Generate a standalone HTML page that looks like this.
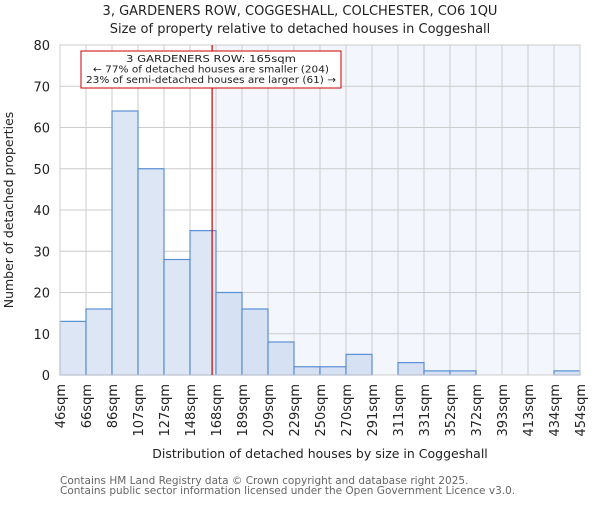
<!DOCTYPE html>
<html><head><meta charset="utf-8"><style>
body{margin:0;background:#fff;}
svg text{font-family:"DejaVu Sans","Liberation Sans",sans-serif;}
</style></head><body>
<svg id="chart" width="600" height="500" xmlns="http://www.w3.org/2000/svg">
<text x="300" y="15" text-anchor="middle" font-size="13" fill="#222">3, GARDENERS ROW, COGGESHALL, COLCHESTER, CO6 1QU</text>
<text x="300" y="33" text-anchor="middle" font-size="13" fill="#222">Size of property relative to detached houses in Coggeshall</text>
<g id="plot"></g>
<text transform="translate(13,210) rotate(-90)" text-anchor="middle" font-size="12.5" fill="#222">Number of detached properties</text>
<text x="320" y="458" text-anchor="middle" font-size="12.5" fill="#222">Distribution of detached houses by size in Coggeshall</text>
<text x="60" y="484" font-size="10.5" fill="#666">Contains HM Land Registry data © Crown copyright and database right 2025.</text>
<text x="60" y="494" font-size="10.5" fill="#666">Contains public sector information licensed under the Open Government Licence v3.0.</text>
</svg>
<script>
const binLabels=["46sqm","66sqm","86sqm","107sqm","127sqm","148sqm","168sqm","189sqm","209sqm","229sqm","250sqm","270sqm","291sqm","311sqm","331sqm","352sqm","372sqm","393sqm","413sqm","434sqm","454sqm"];
const binEdges=[46,66,86,107,127,148,168,189,209,229,250,270,291,311,331,352,372,393,413,434,454];
const counts=[13,16,64,50,28,35,20,16,8,2,2,5,0,3,1,1,0,0,0,1];
const yTicks=[0,10,20,30,40,50,60,70,80];
const propertySize=165;
const annotationLines=["3 GARDENERS ROW: 165sqm","← 77% of detached houses are smaller (204)","23% of semi-detached houses are larger (61) →"];

const L=60,R=580,T=45,B=375,NS="http://www.w3.org/2000/svg";
const bw=(R-L)/counts.length;
const xi=i=>L+i*bw;
const xv=v=>{let i=0;while(i<binEdges.length-2&&v>binEdges[i+1])i++;return xi(i)+(v-binEdges[i])/(binEdges[i+1]-binEdges[i])*bw;};
const y=v=>B-(v-0)/(80-0)*(B-T);
const g=document.getElementById('plot');
function mk(t,a,p){const e=document.createElementNS(NS,t);for(const k in a)e.setAttribute(k,a[k]);(p||g).appendChild(e);return e;}
const px=xv(propertySize);
let e=mk('rect',{x:px,y:T,width:R-px,height:B-T,fill:'#f3f6fd'});


yTicks.forEach(t=>{
 let l=mk('line',{x1:L,x2:R,y1:y(t),y2:y(t),stroke:'#ccc','stroke-width':1});
 
 
 let tx=mk('text',{x:L-10,y:y(t)+5,'text-anchor':'end','font-size':13,fill:'#222'});
 tx.textContent=t;
 
 
});
binLabels.forEach((lab,i)=>{
 let l=mk('line',{x1:xi(i),x2:xi(i),y1:T,y2:B,stroke:'#ccc','stroke-width':1});
 
 
 let tx=mk('text',{transform:`translate(${xi(i)+5},384) rotate(-90)`,'text-anchor':'end','font-size':13,fill:'#222'});
 tx.textContent=lab;
 
 
});
counts.forEach((c,i)=>{
 let r=mk('rect',{x:xi(i),y:y(c),width:bw,height:B-y(c),fill:i>=6?'#d6e1f3':'#dce6f5',stroke:'#5a8fd6','stroke-width':1.2});
 
 
});
let ax=mk('line',{x1:L,x2:R,y1:B,y2:B,stroke:'#bbb'});


let fr=mk('rect',{x:L,y:T,width:R-L,height:B-T,fill:'none',stroke:'#ccc'});


let ml=mk('line',{x1:px,x2:px,y1:T,y2:B,stroke:'#cc0000','stroke-width':1.2});


let box=mk('rect',{x:81,y:51,width:260,height:37,fill:'#fff',stroke:'#cc0000','stroke-width':1});


annotationLines.forEach((s,k)=>{
 let tx=mk('text',{x:211,y:62+k*10.5,'text-anchor':'middle','font-size':10,fill:'#222',textLength:k===0?170:250,lengthAdjust:'spacingAndGlyphs'});
 if(k===1){tx.setAttribute('textLength',236);}
 tx.textContent=s;
 
 
});
</script>
</body></html>
